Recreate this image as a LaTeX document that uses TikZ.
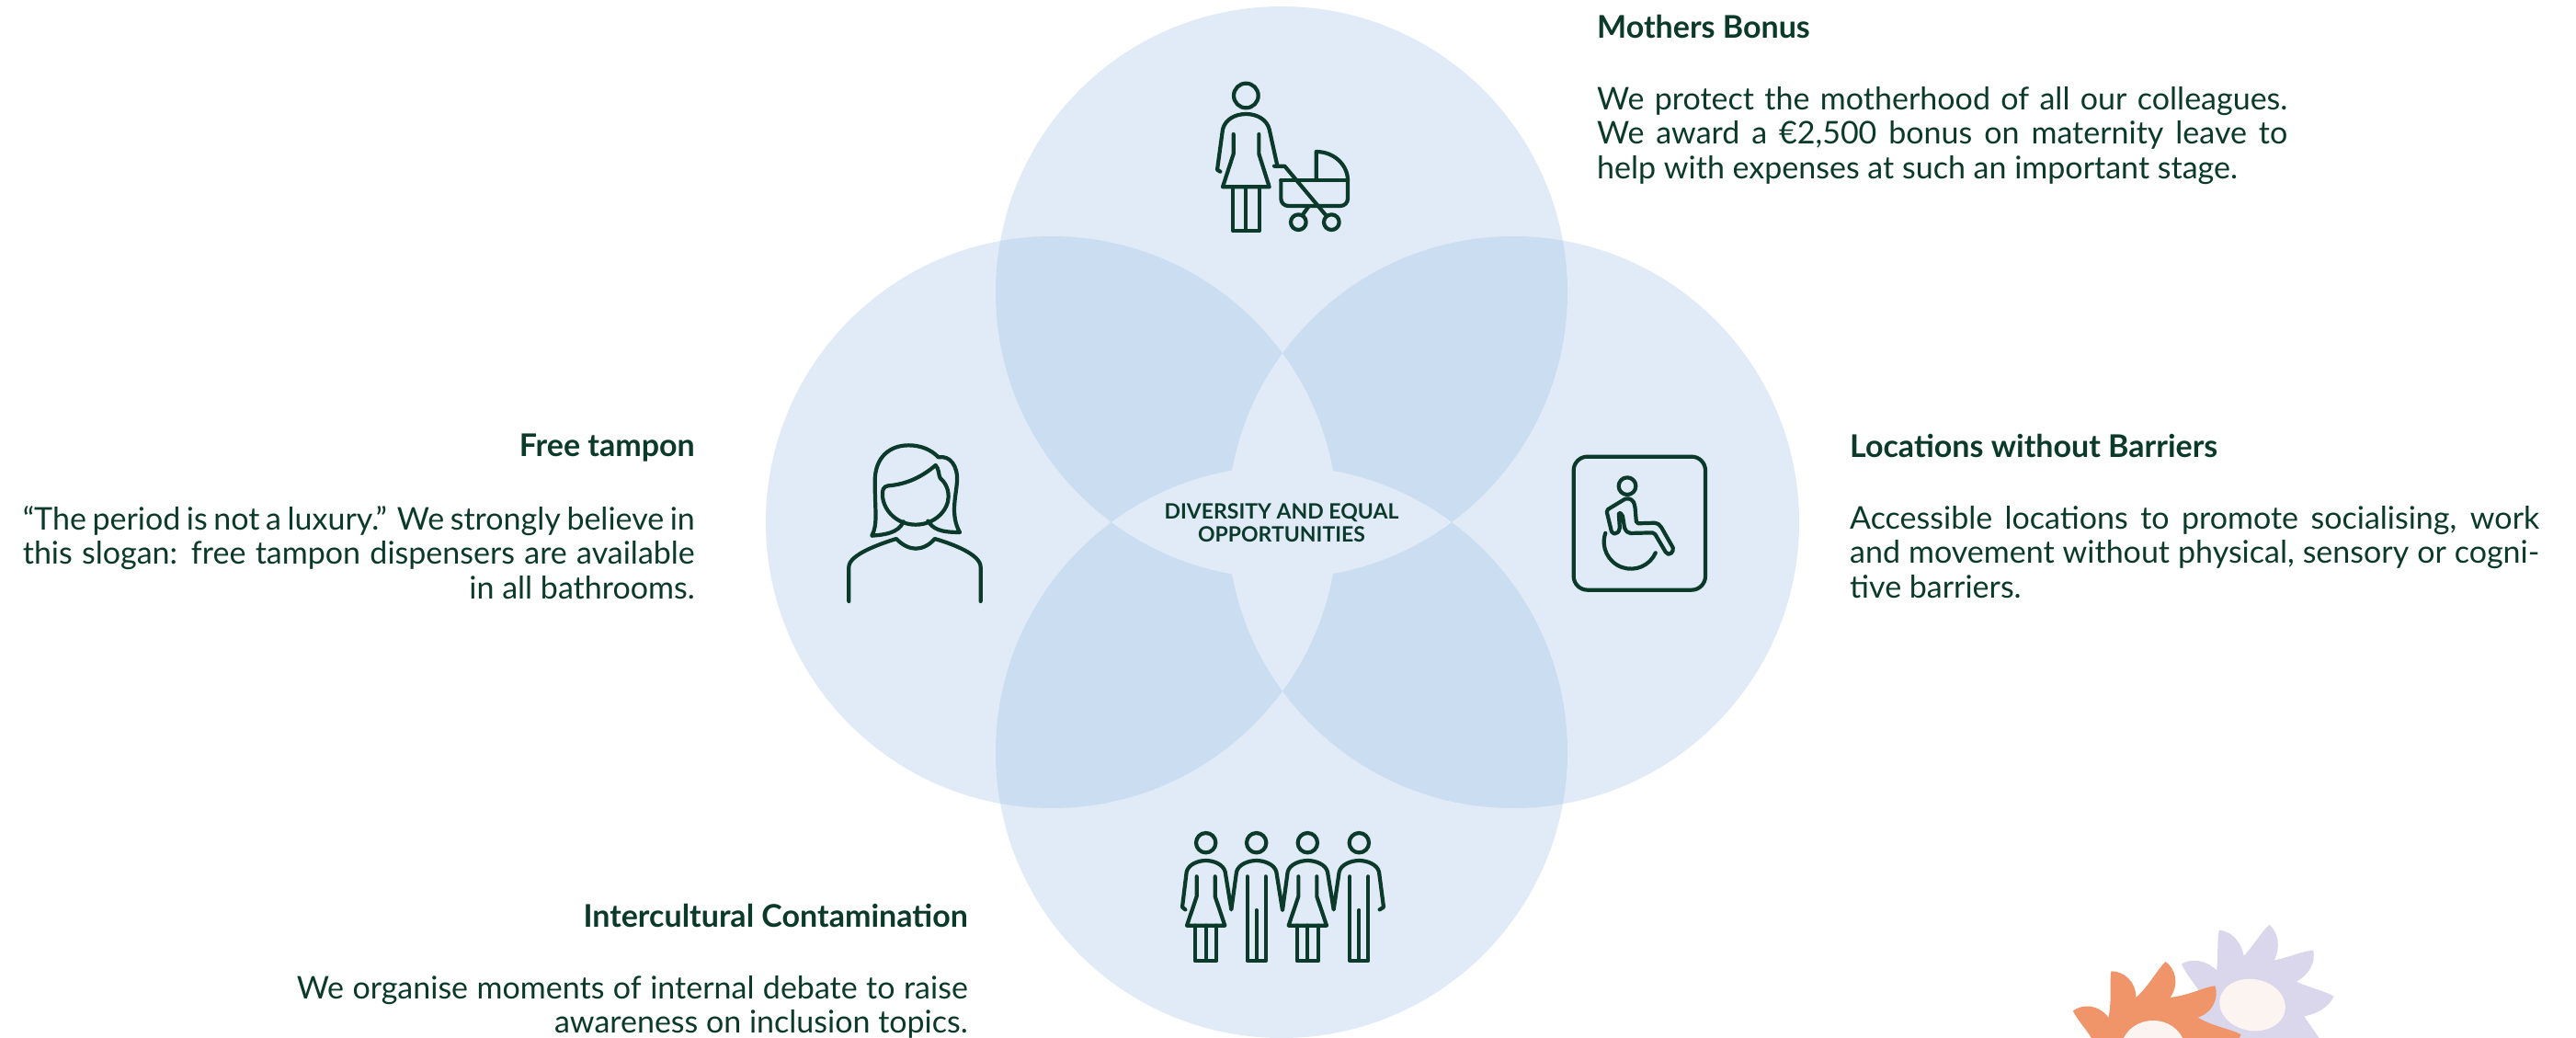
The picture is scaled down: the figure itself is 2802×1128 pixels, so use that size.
\documentclass[tikz,border=0pt]{standalone}
\usepackage{fontspec}
\setmainfont{Lato}
\definecolor{ink}{HTML}{0B3A2B}
\definecolor{petal}{HTML}{E1EBF7}
\definecolor{overlap}{HTML}{CBDDF1}
\definecolor{sunorange}{HTML}{F0956A}
\definecolor{lilac}{HTML}{DAD6EB}
\definecolor{cream}{HTML}{FCF4F0}
\begin{document}
\begin{tikzpicture}[x=1pt,y=-1pt,
  ttl/.style={font=\fontsize{34}{40}\selectfont\bfseries, text=ink, inner sep=0pt},
  body/.style={font=\fontsize{34}{37.5}\selectfont, text=ink, inner sep=0pt},
  hub/.style={font=\fontsize{23}{25}\selectfont\bfseries, text=ink, inner sep=0pt, align=center},
  icon/.style={draw=ink, line width=4.2pt, line cap=round, line join=round},
]
\useasboundingbox (0,0) rectangle (2802,1128);
\fill[white] (0,0) rectangle (2802,1128);

% ---- four overlapping circles ----
\coordinate (cT) at (1394,318);
\coordinate (cL) at (1144,568);
\coordinate (cR) at (1646,568);
\coordinate (cB) at (1394,818);
\foreach \p in {T,L,R,B} \fill[petal] (c\p) circle (311);
% regions shared by two circles
\foreach \p/\q in {T/L,T/R,B/L,B/R,L/R,T/B}{
  \begin{scope}
    \clip (c\p) circle (311);
    \fill[overlap] (c\q) circle (311);
  \end{scope}}
% regions shared by three or more circles
\foreach \p/\q/\s in {T/L/R,T/L/B,T/R/B,L/R/B}{
  \begin{scope}
    \clip (c\p) circle (311);
    \clip (c\q) circle (311);
    \fill[petal] (c\s) circle (311);
  \end{scope}}

\node[hub, anchor=north] (hubtext) at (1394,547) {DIVERSITY AND EQUAL\\OPPORTUNITIES};

% ---- mother with pram ----
\begin{scope}[shift={(1280,60)}, scale=1/3]
  \draw[icon] (226,132) circle (40);
  \draw[icon] (142,380) -- (132,374) -- (150,242) .. controls (158,210) and (190,192) .. (226,192)
        .. controls (262,192) and (294,210) .. (302,242) -- (328,360);
  \draw[icon] (185,258) -- (185,322) -- (150,430) -- (302,430) -- (268,322) -- (268,258);
  \draw[icon] (182,430) -- (182,572) -- (270,572) -- (270,430);
  \draw[icon] (226,430) -- (226,572);
  \draw[icon] (318,362) -- (352,362) -- (488,524);
  \draw[icon, rounded corners=8] (340,408) -- (340,492) -- (558,492) -- (558,408);
  \draw[icon] (340,408) -- (558,408);
  \draw[icon] (455,408) -- (455,315) .. controls (515,315) and (558,360) .. (558,408);
  \draw[icon] (397,545) circle (25);
  \draw[icon] (505,545) circle (25);
  \draw[icon] (410,522) -- (430,494);
\end{scope}

% ---- woman portrait ----
\begin{scope}[shift={(890,460)}, scale=1/3]
  \draw[icon] (358,320) .. controls (375,345) and (395,357) .. (462,357)
        .. controls (430,300) and (450,240) .. (453,190) .. controls (456,140) and (430,105) .. (392,112)
        .. controls (370,88) and (335,73) .. (295,73) .. controls (235,73) and (185,110) .. (185,190)
        .. controls (185,290) and (195,330) .. (175,368) .. controls (215,365) and (262,360) .. (278,322);
  \draw[icon] (383,138) .. controls (340,175) and (290,200) .. (228,205)
        .. controls (212,207) and (208,220) .. (210,240)
        .. controls (215,290) and (260,332) .. (318,332)
        .. controls (380,332) and (425,285) .. (425,240)
        .. controls (425,210) and (410,190) .. (398,180)
        .. controls (392,170) and (395,150) .. (383,138) -- cycle;
  \draw[icon] (100,582) -- (100,470) .. controls (100,430) and (200,395) .. (255,378)
        .. controls (275,400) and (300,410) .. (318,410) .. controls (338,410) and (362,400) .. (380,378)
        .. controls (440,395) and (530,430) .. (530,470) -- (530,582);
\end{scope}

% ---- accessibility sign ----
\begin{scope}[shift={(1690,470)}, scale=1/3]
  \draw[icon, rounded corners=15] (65,80) rectangle (495,515);
  \draw[icon] (240,176) circle (28);
  \draw[icon, rounded corners=2] (172,255) -- (238,215) -- (258,222) -- (265,240) -- (270,298)
        -- (335,296) -- (348,305) -- (392,382) -- (380,400) -- (368,396) -- (328,328) -- (245,330)
        -- (232,318) -- (224,268) -- (212,262) -- (216,318) -- (205,332) -- (190,330) -- cycle;
  \draw[icon] (252,358) ++(199:88) arc[start angle=199, end angle=24, radius=88];
\end{scope}

% ---- four people holding hands ----
\begin{scope}[shift={(1260,880)}, scale=1/3]
  \foreach \cx in {155,320,487,655} \draw[icon] (\cx,110) circle (32);
  \draw[icon] (88,328) -- (78,320) -- (92,205) .. controls (98,180) and (130,168) .. (155,168)
        .. controls (180,168) and (212,180) .. (218,205) -- (238,328)
        -- (255,205) .. controls (261,180) and (295,168) .. (320,168)
        .. controls (345,168) and (379,180) .. (385,205) -- (405,330)
        -- (422,205) .. controls (428,180) and (462,168) .. (487,168)
        .. controls (512,168) and (546,180) .. (552,205) -- (572,328)
        -- (590,205) .. controls (596,180) and (630,168) .. (655,168)
        .. controls (680,168) and (714,180) .. (720,205) -- (735,320) -- (722,328);
  \foreach \cx in {155,487}{
    \draw[icon] (\cx-30,220) -- (\cx-30,285) -- (\cx-62,380) -- (\cx+62,380) -- (\cx+30,285) -- (\cx+30,220);
    \draw[icon] (\cx-35,380) -- (\cx-35,495) -- (\cx+35,495) -- (\cx+35,380);
    \draw[icon] (\cx,380) -- (\cx,495);}
  \foreach \cx in {320,655}{
    \draw[icon] (\cx-30,220) -- (\cx-30,495) -- (\cx+30,495) -- (\cx+30,220);
    \draw[icon] (\cx,330) -- (\cx,495);}
\end{scope}

% ---- texts ----
\node[ttl, anchor=north west] (mbT) at (1737,16) {Mothers Bonus};
\node[body, anchor=north west, align=left] (mbB) at (1737,94)
  {\hbox to 751pt{We protect the motherhood of all our colleagues.}\\
   \hbox to 751pt{We award a €2,500 bonus on maternity leave to}\\
   help with expenses at such an important stage.};

\node[ttl, anchor=north east] (ftT) at (756,472) {Free tampon};
\node[body, anchor=north east, align=right] (ftB) at (756,550)
  {\hbox to 731pt{“The period is not a luxury.” We strongly believe in}\\
   \hbox to 731pt{this slogan: free tampon dispensers are available}\\
   in all bathrooms.};

\node[ttl, anchor=north west] (lbT) at (2012,472) {Locations without Barriers};
\node[body, anchor=north west, align=left] (lbB) at (2012,550)
  {\hbox to 750pt{Accessible locations to promote socialising, work}\\
   \hbox to 750pt{and movement without physical, sensory or cogni-}\\
   tive barriers.};

\node[ttl, anchor=north east] (icT) at (1053,983) {Intercultural Contamination};
\node[body, anchor=north east, align=right] (icB) at (1053,1061)
  {\hbox to 730pt{We organise moments of internal debate to raise}\\
   awareness on inclusion topics.};

% ---- flowers: flame-shaped petals round a cream heart ----
\begin{scope}[shift={(2450,1093)}]
  \fill[lilac] (14:54) \foreach \k in {0,...,9}{
      .. controls ({-6-36*\k+14}:72) and ({-6-36*\k+7}:84) .. ({-6-36*\k}:89)
      .. controls ({-6-36*\k-5}:80) and ({-6-36*\k-10}:66) .. ({-6-36*\k-22}:54)} -- cycle;
  \fill[cream, rotate=-10] (0,0) ellipse [x radius=36, y radius=28];
\end{scope}
\begin{scope}[shift={(2342,1142)}]
  \fill[sunorange] (10:60) \foreach \k in {0,...,9}{
      .. controls ({-10-36*\k+14}:78) and ({-10-36*\k+7}:92) .. ({-10-36*\k}:97)
      .. controls ({-10-36*\k-5}:88) and ({-10-36*\k-10}:72) .. ({-10-36*\k-26}:60)} -- cycle;
  \fill[cream] (0,0) ellipse [x radius=35, y radius=32];
\end{scope}
\end{tikzpicture}
\end{document}
